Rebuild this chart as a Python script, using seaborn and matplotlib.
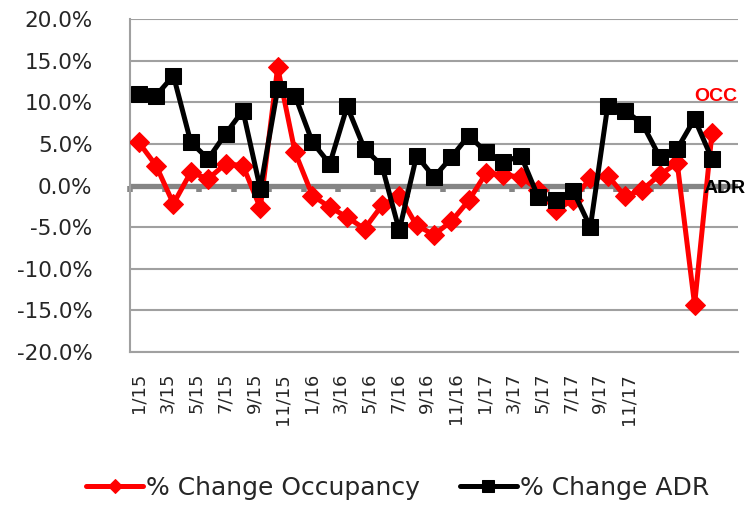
import numpy as np
import pandas as pd
import matplotlib
matplotlib.use("Agg")
import matplotlib.pyplot as plt
import seaborn as sns

# monthly % change, Jan 2015 - Oct 2017
months = ["1/15", "2/15", "3/15", "4/15", "5/15", "6/15", "7/15", "8/15", "9/15", "10/15",
          "11/15", "12/15", "1/16", "2/16", "3/16", "4/16", "5/16", "6/16", "7/16", "8/16",
          "9/16", "10/16", "11/16", "12/16", "1/17", "2/17", "3/17", "4/17", "5/17", "6/17",
          "7/17", "8/17", "9/17", "10/17"]
occ = [5.2, 2.4, -2.2, 1.6, 0.8, 2.6, 2.4, -2.7, 14.2, 4.0,
       -1.2, -2.6, -3.8, -5.2, -2.4, -1.2, -4.8, -5.9, -4.3, -1.8,
       1.5, 1.3, 1.0, -0.5, -3.0, -1.7, 0.9, 1.2, -1.3, -0.5,
       1.3, 2.7, -14.3, 6.3]
adr = [11.0, 10.8, 13.2, 5.2, 3.2, 6.2, 9.0, -0.4, 11.6, 10.8,
       5.2, 2.6, 9.5, 4.4, 2.4, -5.4, 3.6, 1.0, 3.4, 6.0,
       4.0, 2.8, 3.6, -1.4, -1.8, -0.6, -5.0, 9.6, 9.0, 7.4,
       3.4, 4.4, 8.0, 3.2]
axis_labels = ["1/15", "3/15", "5/15", "7/15", "9/15", "11/15", "1/16", "3/16", "5/16",
               "7/16", "9/16", "11/16", "1/17", "3/17", "5/17", "7/17", "9/17", "11/17"]

df = pd.DataFrame({"month": months, "idx": np.arange(len(months)), "occ": occ, "adr": adr})

sns.set_style("white")
plt.rcParams["font.family"] = ["DejaVu Sans"]

fig = plt.figure(figsize=(7.54, 5.07), dpi=100)
ax = fig.add_axes([0.1724, 0.3057, 0.8064, 0.6568])

grid_c = "#a0a0a0"
for v in np.arange(-20, 21, 5):
    if v != 0:
        ax.axhline(v, color=grid_c, lw=1.5, zorder=0)
ax.axhline(0, color="#858585", lw=3.8, zorder=1)

sns.lineplot(data=df, x="idx", y="occ", ax=ax, color="#ff0000", lw=3.6, marker="D",
             markersize=10, markeredgecolor="#ff0000", label="% Change Occupancy", zorder=3)
sns.lineplot(data=df, x="idx", y="adr", ax=ax, color="black", lw=3.6, marker="s",
             markersize=12, markeredgecolor="black", label="% Change ADR", zorder=4)

ax.set_xlim(-0.5, 34.5)
ax.set_ylim(-20, 20)
ax.set_yticks(np.arange(-20, 21, 5))
ax.set_yticklabels([f"{v:.1f}%" for v in np.arange(-20, 21, 5)])
ax.tick_params(axis="y", length=6, width=1.5, color=grid_c, pad=21, labelsize=15.5)

# labels as laid out in the original
ax.set_xticks(np.linspace(0, 28.2, len(axis_labels)))
ax.set_xticklabels(axis_labels, rotation=90, va="top")
ax.tick_params(axis="x", length=0, pad=15, labelsize=13)
ax.set_xlabel("")
ax.set_ylabel("")

for s in ["top", "right"]:
    ax.spines[s].set_visible(False)
for s in ["left", "bottom"]:
    ax.spines[s].set_color(grid_c)
    ax.spines[s].set_linewidth(1.5)

# category ticks on the zero line
sec = ax.secondary_xaxis(0.5)
sec.set_alignment("bottom")
sec.set_xticks(np.arange(-0.5, 34, 2))
sec.tick_params(axis="x", direction="out", length=4, width=4, color="#858585",
                labelbottom=False, labeltop=False)
for s in sec.spines.values():
    s.set_visible(False)

ax.text(33.2, 10.7, "OCC", color="#ff0000", fontsize=14, fontweight="bold",
        family="Liberation Sans", ha="center", va="center")
ax.text(33.7, -0.3, "ADR", color="black", fontsize=14, fontweight="bold",
        family="Liberation Sans", ha="center", va="center", zorder=5)

ax.legend(loc="center", bbox_to_anchor=(0.527, 0.037), bbox_transform=fig.transFigure,
          ncol=2, frameon=False, fontsize=18, handlelength=2.3, handletextpad=0.1,
          columnspacing=1.6, markerscale=0.75)

fig.savefig("out.png", dpi=100)
